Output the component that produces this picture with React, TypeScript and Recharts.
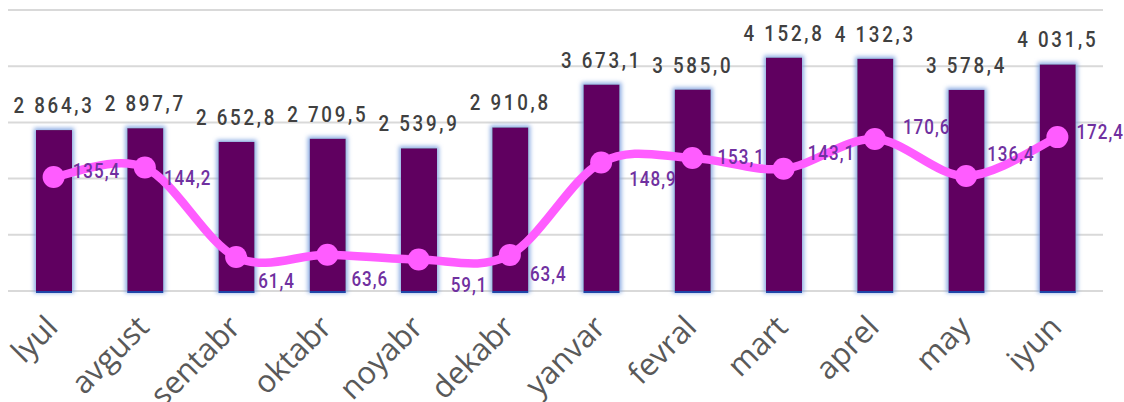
import {
  Bar,
  CartesianGrid,
  ComposedChart,
  LabelList,
  Line,
  XAxis,
  YAxis,
} from 'recharts'

const months = [
  'lyul', 'avgust', 'sentabr', 'oktabr', 'noyabr', 'dekabr',
  'yanvar', 'fevral', 'mart', 'aprel', 'may', 'iyun',
]
const volume = [
  2864.3, 2897.7, 2652.8, 2709.5, 2539.9, 2910.8,
  3673.1, 3585.0, 4152.8, 4132.3, 3578.4, 4031.5,
]
const rate = [
  135.4, 144.2, 61.4, 63.6, 59.1, 63.4,
  148.9, 153.1, 143.1, 170.6, 136.4, 172.4,
]
const leftTicks = [0, 1000, 2000, 3000, 4000, 5000]

const data = months.map((m, i) => ({ month: m, volume: volume[i], rate: rate[i] }))

// hand placed label nudges for the line labels (dx, dy from the marker)
const rateLabelNudge: [number, number][] = [
  [19, -6], [19, 11], [22, 24], [24, 25], [32, 26], [20, 20],
  [28, 17], [25, 0], [24, -15], [28, -12], [21, -21], [19, -5],
]

const BAR = '#600060'
const LINE = '#ff5cff'
const LABEL_FONT = 'Roboto, "DejaVu Sans", sans-serif'

function fmt(n: number) {
  const [int, dec] = n.toFixed(1).split('.')
  return int.replace(/\B(?=(\d{3})+(?!\d))/g, ' ') + ',' + dec
}

// catmull-rom style smoothing, close to the office "smoothed line"
function smoothCurve(context: any) {
  let pts: [number, number][] = []
  return {
    areaStart() {},
    areaEnd() {},
    lineStart() {
      pts = []
    },
    point(x: number, y: number) {
      pts.push([+x, +y])
    },
    lineEnd() {
      if (!pts.length) return
      context.moveTo(pts[0][0], pts[0][1])
      const t = 1 / 6
      for (let i = 0; i < pts.length - 1; i++) {
        const p0 = pts[i - 1] || pts[i]
        const p1 = pts[i]
        const p2 = pts[i + 1]
        const p3 = pts[i + 2] || p2
        context.bezierCurveTo(
          p1[0] + (p2[0] - p0[0]) * t,
          p1[1] + (p2[1] - p0[1]) * t,
          p2[0] - (p3[0] - p1[0]) * t,
          p2[1] - (p3[1] - p1[1]) * t,
          p2[0],
          p2[1],
        )
      }
    },
  }
}

function GlowBar(props: any) {
  const { x, y, width, height } = props
  if (height == null || height <= 0) return null
  return (
    <g>
      <rect x={x} y={y} width={width} height={height} fill={BAR} filter="url(#barGlow)" />
      <rect x={x} y={y + height} width={width} height={2} fill="#1f47a8" />
    </g>
  )
}

function MonthTick(props: any) {
  const { x, y, payload } = props
  const ax = x + 6
  const ay = y + 30
  return (
    <text
      x={ax}
      y={ay}
      transform={`rotate(-45, ${ax}, ${ay})`}
      textAnchor="end"
      fill="#595959"
      fontSize={31}
      fontFamily='"Open Sans", sans-serif'
    >
      {payload.value}
    </text>
  )
}

function VolumeLabel(props: any) {
  const { x, y, width, value } = props
  return (
    <text
      transform={`translate(${x + width / 2}, ${y - 17}) scale(0.85, 1)`}
      textAnchor="middle"
      fill="#404040"
      fontSize={22}
      fontWeight={500}
      letterSpacing={3.2}
      fontFamily={LABEL_FONT}
    >
      {fmt(Number(value))}
    </text>
  )
}

function RateLabel(props: any) {
  const { x, y, value, index } = props
  const [dx, dy] = rateLabelNudge[index] || [20, 0]
  return (
    <text
      transform={`translate(${x + dx}, ${y + dy}) scale(0.85, 1)`}
      dominantBaseline="central"
      fill="#7030a0"
      fontSize={20}
      fontWeight={500}
      letterSpacing={1.2}
      fontFamily={LABEL_FONT}
    >
      {fmt(Number(value))}
    </text>
  )
}

export default function App() {
  return (
    <div style={{ position: 'absolute', left: 0, top: 0, background: '#fff' }}>
      <ComposedChart
        width={1124}
        height={402}
        data={data}
        margin={{ top: 10, right: 21, left: 8, bottom: 0 }}
      >
        <defs>
          <filter id="barGlow" x="-40%" y="-5%" width="180%" height="110%">
            <feFlood floodColor="#7ea2e0" floodOpacity="0.9" result="c" />
            <feComposite in="c" in2="SourceAlpha" operator="in" result="s" />
            <feMorphology in="s" operator="dilate" radius="1.5" result="d" />
            <feGaussianBlur in="d" stdDeviation="2" result="b" />
            <feMerge>
              <feMergeNode in="b" />
              <feMergeNode in="SourceGraphic" />
            </feMerge>
          </filter>
        </defs>
        <CartesianGrid horizontal vertical={false} stroke="#d9d9d9" strokeWidth={2} yAxisId="left" />
        <XAxis
          dataKey="month"
          height={111}
          interval={0}
          axisLine={false}
          tickLine={false}
          tick={<MonthTick />}
        />
        <YAxis yAxisId="left" hide domain={[0, 5000]} ticks={leftTicks} />
        <YAxis yAxisId="right" hide orientation="right" domain={[30, 290]} />
        <Bar
          yAxisId="left"
          dataKey="volume"
          barSize={36}
          fill={BAR}
          shape={<GlowBar />}
          isAnimationActive={false}
        >
          <LabelList dataKey="volume" content={<VolumeLabel />} />
        </Bar>
        <Line
          yAxisId="right"
          dataKey="rate"
          type={smoothCurve as any}
          stroke={LINE}
          strokeWidth={8.5}
          dot={{ r: 11, fill: LINE, stroke: 'none' }}
          activeDot={false}
          isAnimationActive={false}
        >
          <LabelList dataKey="rate" content={<RateLabel />} />
        </Line>
      </ComposedChart>
    </div>
  )
}
